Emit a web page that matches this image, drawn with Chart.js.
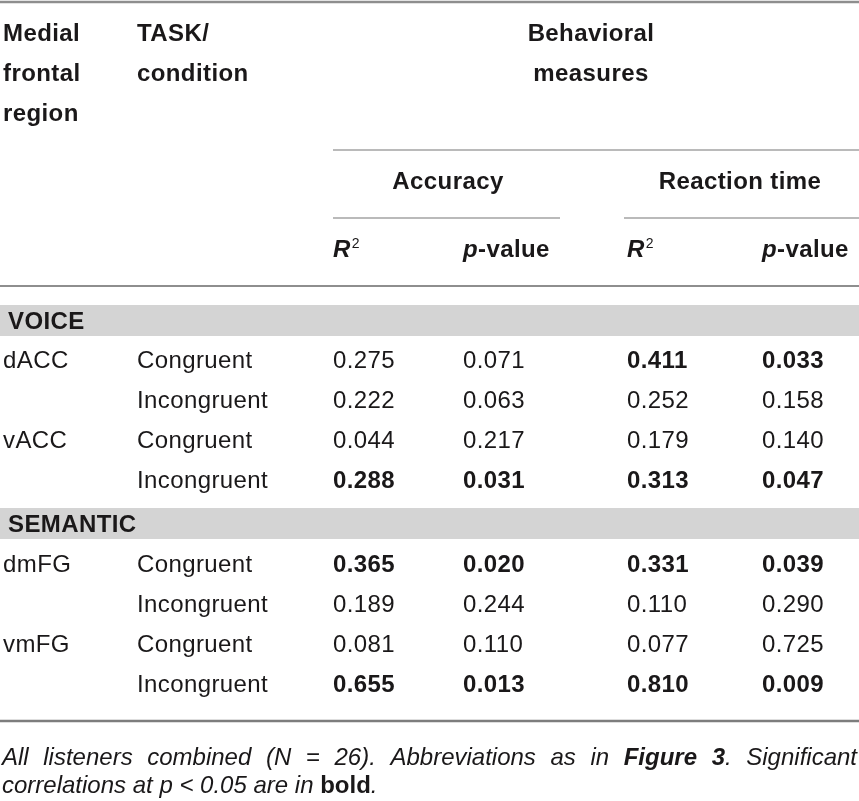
<!DOCTYPE html>
<html>
<head>
<meta charset="utf-8">
<title>Behavioral measures</title>
<script src="https://cdn.jsdelivr.net/npm/chart.js@4.4.1/dist/chart.umd.min.js"></script>
<style>
  html, body { margin: 0; padding: 0; background: #fff; }
  #wrap { width: 859px; height: 801px; }
</style>
</head>
<body>
<div id="wrap"><canvas id="table" width="859" height="801"></canvas></div>
<script>
// Table content
const regionHeader = ["Medial", "frontal", "region"];
const taskHeader = ["TASK/", "condition"];
const measuresHeader = ["Behavioral", "measures"];
const measureGroups = ["Accuracy", "Reaction time"];
const groups = ["VOICE", "SEMANTIC"];
const regions = ["dACC", "", "vACC", "", "dmFG", "", "vmFG", ""];
const conditions = ["Congruent", "Incongruent", "Congruent", "Incongruent",
                    "Congruent", "Incongruent", "Congruent", "Incongruent"];
const accR2 = [0.275, 0.222, 0.044, 0.288, 0.365, 0.189, 0.081, 0.655];
const accP  = [0.071, 0.063, 0.217, 0.031, 0.020, 0.244, 0.110, 0.013];
const rtR2  = [0.411, 0.252, 0.179, 0.313, 0.331, 0.110, 0.077, 0.810];
const rtP   = [0.033, 0.158, 0.140, 0.047, 0.039, 0.290, 0.725, 0.009];
const ALPHA = 0.05;

/* LAYOUT (canvas units) */
const W = 859, H = 801;
const COL_X = [333, 463, 627, 762];
const ROW_Y = [368, 408, 448, 488, 572, 612, 652, 692];
const BANDS = [[305, 336], [508, 539]];
const FONT = '"Liberation Sans"';
const INK = "#1a1819";
const RULE = "#8e8e8e";

const f = (style, size) => `${style} ${size}px ${FONT}`;

// draw a line made of styled runs; optionally stretch spaces to reach xEnd
function drawRuns(ctx, runs, x, y, xEnd) {
  const items = [];
  let gaps = 0;
  runs.forEach((run) => {
    run.text.split(" ").forEach((part, i) => {
      if (i > 0) { items.push({ gap: true }); gaps++; }
      if (part) items.push({ text: part, font: run.font });
    });
  });
  ctx.font = runs[0].font;
  const space = ctx.measureText(" ").width;
  let total = 0;
  items.forEach((it) => {
    if (it.gap) return;
    ctx.font = it.font;
    it.w = ctx.measureText(it.text).width;
    total += it.w;
  });
  const gapW = xEnd ? (xEnd - x - total) / gaps : space;
  let cx = x;
  items.forEach((it) => {
    if (it.gap) { cx += gapW; return; }
    ctx.font = it.font;
    ctx.fillText(it.text, cx, y);
    cx += it.w;
  });
}

function drawR2(ctx, x, y) {
  ctx.font = f("italic bold", 24);
  ctx.fillText("R", x, y);
  const w = ctx.measureText("R").width;
  ctx.font = f("normal", 14);
  ctx.fillText("2", x + w + 1, y - 9);
}

function drawPValue(ctx, x, y) {
  drawRuns(ctx, [
    { text: "p", font: f("italic bold", 24) },
    { text: "-value", font: f("bold", 24) }
  ], x, y);
}

const tablePlugin = {
  id: "tableLayout",
  beforeDatasetsDraw(chart) {
    const { ctx, scales: { x, y } } = chart;
    const px = (v) => x.getPixelForValue(v);
    const py = (v) => y.getPixelForValue(v);
    ctx.save();

    // group bands
    ctx.fillStyle = "#d4d4d4";
    BANDS.forEach(([a, b]) => ctx.fillRect(px(0), py(a), px(W) - px(0), py(b) - py(a)));

    // rules
    const rule = (x0, x1, yy, lw, color) => {
      ctx.beginPath();
      ctx.strokeStyle = color;
      ctx.lineWidth = lw;
      ctx.moveTo(px(x0), py(yy));
      ctx.lineTo(px(x1), py(yy));
      ctx.stroke();
    };
    rule(0, W, 2, 2.5, RULE);
    rule(333, W, 150, 1.5, "#a3a3a3");
    rule(333, 560, 218, 1.5, "#a3a3a3");
    rule(624, W, 218, 1.5, "#a3a3a3");
    rule(0, W, 286, 2, RULE);
    rule(0, W, 721, 2.5, "#7d7d7d");
    ctx.restore();
  },
  afterDatasetsDraw(chart) {
    const { ctx, scales: { x, y } } = chart;
    const px = (v) => x.getPixelForValue(v);
    const py = (v) => y.getPixelForValue(v);
    ctx.save();
    ctx.fillStyle = INK;
    ctx.textBaseline = "alphabetic";
    ctx.letterSpacing = "0.4px";

    // header
    ctx.font = f("bold", 24);
    ctx.textAlign = "left";
    regionHeader.forEach((t, i) => ctx.fillText(t, px(3), py(41 + i * 40)));
    taskHeader.forEach((t, i) => ctx.fillText(t, px(137), py(41 + i * 40)));
    ctx.textAlign = "center";
    measuresHeader.forEach((t, i) => ctx.fillText(t, px(591), py(41 + i * 40)));
    ctx.fillText(measureGroups[0], px(448), py(189));
    ctx.fillText(measureGroups[1], px(740), py(189));
    ctx.textAlign = "left";
    drawR2(ctx, px(COL_X[0]), py(257));
    drawPValue(ctx, px(COL_X[1]), py(257));
    drawR2(ctx, px(COL_X[2]), py(257));
    drawPValue(ctx, px(COL_X[3]), py(257));

    // group labels
    ctx.font = f("bold", 24);
    ctx.fillText(groups[0], px(8), py(BANDS[0][1] - 7));
    ctx.fillText(groups[1], px(8), py(BANDS[1][1] - 7));

    // row labels
    ctx.font = f("normal", 24);
    regions.forEach((t, i) => ctx.fillText(t, px(3), py(ROW_Y[i])));
    conditions.forEach((t, i) => ctx.fillText(t, px(137), py(ROW_Y[i])));

    // value cells, placed by the scatter points
    chart.data.datasets.forEach((ds, di) => {
      const meta = chart.getDatasetMeta(di);
      meta.data.forEach((pt, i) => {
        const raw = ds.data[i];
        ctx.font = f(raw.sig ? "bold" : "normal", 24);
        ctx.fillText(raw.v.toFixed(3), pt.x, pt.y);
      });
    });

    // footnote
    ctx.letterSpacing = "0px";
    drawRuns(ctx, [
      { text: "All listeners combined (N = 26). Abbreviations as in ", font: f("italic", 24) },
      { text: "Figure 3", font: f("italic bold", 24) },
      { text: ". Significant", font: f("italic", 24) }
    ], px(2), py(765), px(857));
    drawRuns(ctx, [
      { text: "correlations at p < 0.05 are in ", font: f("italic", 24) },
      { text: "bold", font: f("bold", 24) },
      { text: ".", font: f("italic", 24) }
    ], px(2), py(793));
    ctx.restore();
  }
};

// one scatter dataset per value column; significance taken from the matching p-values
const valueColumns = [
  { label: "Accuracy R2", values: accR2, p: accP },
  { label: "Accuracy p", values: accP, p: accP },
  { label: "Reaction time R2", values: rtR2, p: rtP },
  { label: "Reaction time p", values: rtP, p: rtP }
];

function buildChart() {
  new Chart(document.getElementById("table"), {
    type: "scatter",
    data: {
      datasets: valueColumns.map((col, c) => ({
        label: col.label,
        data: col.values.map((v, r) => ({ x: COL_X[c], y: ROW_Y[r], v, sig: col.p[r] < ALPHA })),
        pointRadius: 0,
        pointHoverRadius: 0
      }))
    },
    options: {
      responsive: false,
      animation: false,
      events: [],
      layout: { padding: 0 },
      plugins: { legend: { display: false }, tooltip: { enabled: false } },
      scales: {
        x: { type: "linear", min: 0, max: W, display: false },
        y: { type: "linear", min: 0, max: H, reverse: true, display: false }
      }
    },
    plugins: [tablePlugin]
  });
}

Promise.all([
  document.fonts.load(f("normal", 24)),
  document.fonts.load(f("bold", 24)),
  document.fonts.load(f("italic", 24)),
  document.fonts.load(f("italic bold", 24))
]).catch(() => {}).then(buildChart);
</script>
</body>
</html>
